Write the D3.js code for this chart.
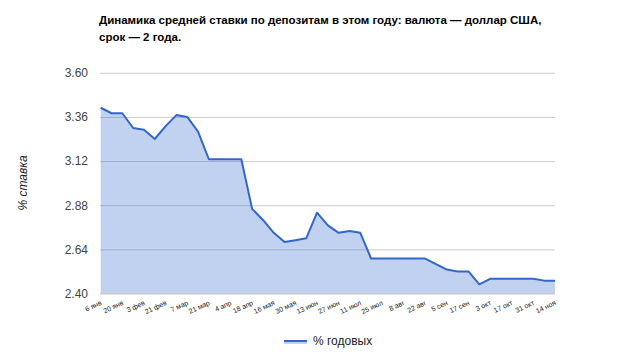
<!DOCTYPE html>
<html><head><meta charset="utf-8">
<script src="https://cdn.jsdelivr.net/npm/d3@7"></script>
<style>body{margin:0;background:#fff}svg{display:block}</style>
</head><body>
<svg id="c" width="639" height="360"></svg>
<script>
const titleLines = ["Динамика средней ставки по депозитам в этом году: валюта — доллар США,", "срок — 2 года."];
const rates = [3.41,3.38,3.38,3.30,3.29,3.24,3.31,3.37,3.36,3.28,
               3.13,3.13,3.13,3.13,2.86,2.80,2.73,2.68,2.69,2.70,
               2.84,2.77,2.73,2.74,2.73,2.59,2.59,2.59,2.59,2.59,
               2.59,2.56,2.53,2.52,2.52,2.45,2.48,2.48,2.48,2.48,
               2.48,2.47,2.47];
const tickLabels = ["6 янв","20 янв","3 фев","21 фев","7 мар","21 мар","4 апр","18 апр","16 мая","30 мая","13 июн","27 июн","11 июл","25 июл","8 авг","22 авг","5 сен","17 сен","3 окт","17 окт","31 окт","14 ноя"];
const yTicks = [2.40,2.64,2.88,3.12,3.36,3.60];
const seriesName = "% годовых";
const yTitle = "% ставка";

const svg = d3.select("#c");
const font = "'Liberation Sans', Arial, sans-serif";
const x = d3.scaleLinear().domain([0, rates.length - 1]).range([100.7, 555]);
const y = d3.scaleLinear().domain([2.40, 3.60]).range([293.5, 72.8]);

// title
svg.append("g").selectAll("text").data(titleLines).join("text")
  .attr("x", 99).attr("y", (d,i) => 24 + i*17)
  .attr("font-family", font).attr("font-size", 11.5).attr("font-weight", "bold")
  .attr("fill", "#000").text(d => d);

// grid + y labels
const ya = svg.append("g").attr("transform", "translate(100,0)")
  .call(d3.axisLeft(y).tickValues(yTicks).tickSize(-455).tickPadding(12).tickFormat(d3.format(".2f")));
ya.select(".domain").remove();
ya.selectAll("line").attr("stroke", "#cccccc");
ya.selectAll("text").attr("font-family", font).attr("font-size", 12).attr("fill", "#444");

// area + line
svg.append("path").datum(rates)
  .attr("d", d3.area().x((d,i) => x(i)).y0(y(2.40)).y1(d => y(d)))
  .attr("fill", "#3366cc").attr("fill-opacity", 0.3);
svg.append("line").attr("x1", 100).attr("x2", 555).attr("y1", y(2.40)).attr("y2", y(2.40)).attr("stroke", "#c8c8c8");
svg.append("path").datum(rates)
  .attr("d", d3.line().x((d,i) => x(i)).y(d => y(d)))
  .attr("fill", "none").attr("stroke", "#3366cc").attr("stroke-width", 2).attr("stroke-linejoin", "round");

// x axis
const xa = svg.append("g").attr("transform", `translate(0,${y(2.40)})`)
  .call(d3.axisBottom(x).tickValues(d3.range(0, rates.length, 2)).tickSize(0).tickFormat(i => tickLabels[i/2]));
xa.select(".domain").remove();
xa.selectAll("text").attr("font-family", font).attr("font-size", 7).attr("fill", "#222")
  .attr("text-anchor", "end").attr("dy", null).attr("y", 0)
  .attr("transform", "translate(1,11) rotate(-25)");

// y title
svg.append("text").attr("transform", "translate(27,183) rotate(-90)")
  .attr("text-anchor", "middle").attr("font-family", font).attr("font-size", 12)
  .attr("font-style", "italic").attr("fill", "#222").text(yTitle);

// legend
svg.append("rect").attr("x", 284).attr("y", 340).attr("width", 23).attr("height", 4).attr("fill", "#3366cc").attr("fill-opacity", 0.3);
svg.append("line").attr("x1", 284).attr("x2", 307).attr("y1", 341).attr("y2", 341).attr("stroke", "#3366cc").attr("stroke-width", 2);
svg.append("text").attr("x", 313).attr("y", 345).attr("font-family", font).attr("font-size", 12).attr("fill", "#222").text(seriesName);
</script>
</body></html>
